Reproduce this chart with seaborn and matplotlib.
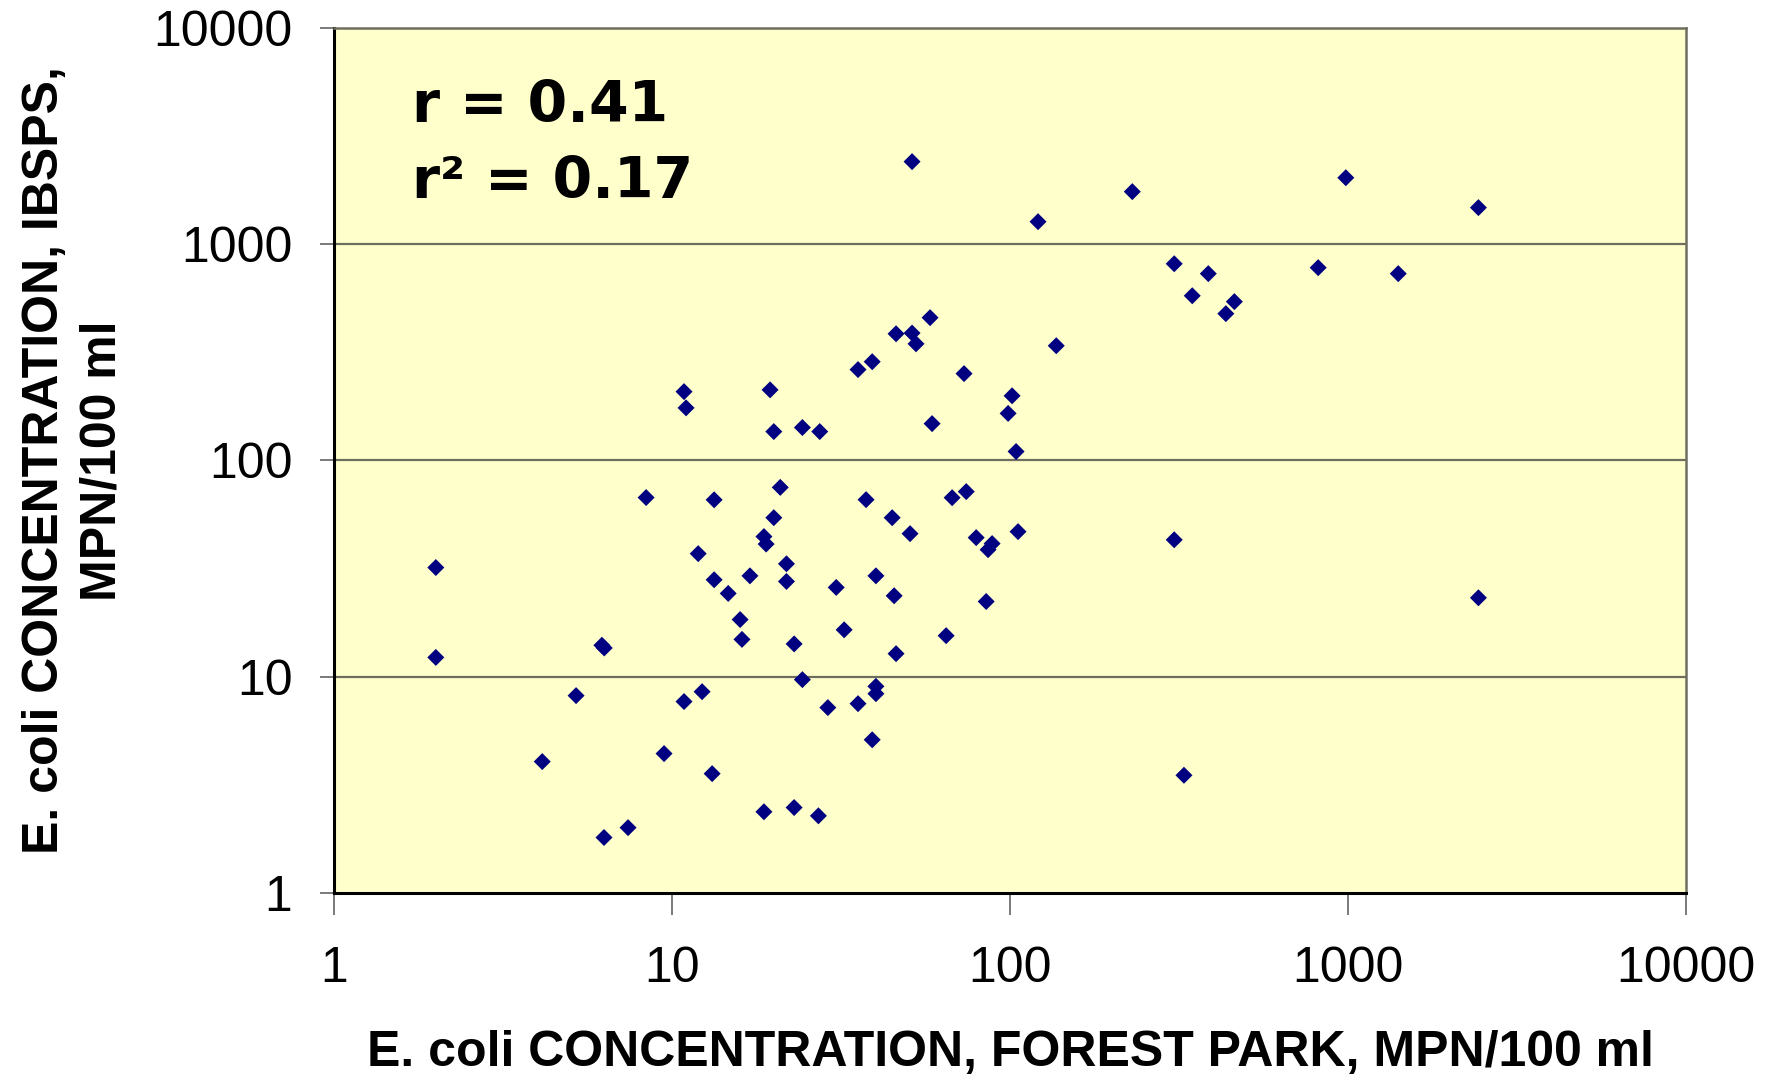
import numpy as np
import pandas as pd
import matplotlib
matplotlib.use("Agg")
import matplotlib.pyplot as plt
from matplotlib.ticker import FixedLocator, FixedFormatter, NullLocator
import seaborn as sns

# Paired E. coli counts (MPN/100 ml): Forest Park vs. IBSPS
forest_park = [
    2.0, 2.0, 4.13, 5.2, 6.2, 6.3, 6.29, 7.41, 8.38, 9.47,
    10.85, 11.0, 10.85, 12.27, 11.95, 13.14, 13.32, 13.32, 14.66, 15.9,
    16.1, 17.0, 18.7, 18.98, 18.7, 19.5, 20.0, 20.0, 20.9, 21.8,
    21.8, 22.97, 22.97, 24.3, 24.3, 27.1, 27.35, 28.9, 30.6, 32.3,
    35.5, 35.5, 37.5, 39.1, 39.1, 40.1, 40.1, 40.1, 44.8, 45.4,
    46.0, 46.0, 50.6, 51.3, 51.3, 52.7, 58.0, 58.8, 64.7, 67.4,
    73.1, 74.2, 79.4, 85.0, 86.1, 88.5, 98.7, 101.4, 104.2, 105.6,
    121.0, 137.0, 230.0, 306.0, 306.0, 327.0, 346.0, 386.0, 435.0, 461.0,
    816.0, 985.0, 1408.0, 2431.0, 2431.0,
]
ibsps = [
    32.0, 12.3, 4.06, 8.19, 14.0, 13.6, 1.81, 2.01, 67.4, 4.42,
    208.0, 175.0, 7.69, 8.54, 37.1, 3.57, 65.8, 28.1, 24.3, 18.4,
    14.9, 29.3, 44.5, 41.1, 2.38, 212.0, 136.0, 54.4, 75.1, 33.3,
    27.6, 14.2, 2.49, 142.0, 9.71, 2.28, 136.0, 7.21, 25.9, 16.5,
    263.0, 7.52, 65.9, 286.0, 5.12, 29.3, 9.04, 8.36, 54.4, 23.7,
    385.0, 12.8, 45.9, 2404.0, 388.0, 346.0, 457.0, 148.0, 15.5, 67.3,
    252.0, 71.8, 44.0, 22.3, 38.7, 41.3, 165.0, 199.0, 110.0, 46.9,
    1269.0, 339.0, 1747.0, 811.0, 43.0, 3.51, 577.0, 730.0, 477.0, 542.0,
    778.0, 2026.0, 730.0, 1474.0, 23.2,
]
decade_ticks = [1, 10, 100, 1000, 10000]
decade_labels = ["1", "10", "100", "1000", "10000"]
stats_lines = ["r = 0.41", "r\u00b2 = 0.17"]

df = pd.DataFrame({"forest_park": forest_park, "ibsps": ibsps})

sns.set_theme(style="white")
plt.rcParams["font.family"] = ["Liberation Sans", "DejaVu Sans"]
plt.rcParams["text.color"] = "black"
plt.rcParams["axes.labelcolor"] = "black"
plt.rcParams["xtick.color"] = "black"
plt.rcParams["ytick.color"] = "black"

fig = plt.figure(figsize=(17.77, 10.77), dpi=100)
fig.patch.set_facecolor("white")
ax = fig.add_axes([0.188, 0.1706, 0.7608, 0.8037])
ax.set_facecolor("#FFFFCC")

ax.set_xscale("log")
ax.set_yscale("log")
ax.set_xlim(1, 10000)
ax.set_ylim(1, 10000)

# horizontal decade gridlines only
for v in decade_ticks[1:-1]:
    ax.axhline(v, color="#6e6e60", lw=1.6, zorder=1)

sns.scatterplot(data=df, x="forest_park", y="ibsps", marker="D",
                color="#000080", s=75, edgecolor="none", linewidth=0,
                ax=ax, legend=False, zorder=3)

for axis in (ax.xaxis, ax.yaxis):
    axis.set_major_locator(FixedLocator(decade_ticks))
    axis.set_major_formatter(FixedFormatter(decade_labels))
    axis.set_minor_locator(NullLocator())

ax.tick_params(axis="y", which="major", direction="out", length=10, width=1.3,
               color="#707070", labelcolor="black", labelsize=36, pad=20, left=True)
ax.tick_params(axis="x", which="major", direction="out", length=16, width=1.3,
               color="#707070", labelcolor="black", labelsize=36, pad=22, bottom=True)

for side in ("left", "bottom"):
    ax.spines[side].set_color("black")
    ax.spines[side].set_linewidth(2.2)
for side in ("top", "right"):
    ax.spines[side].set_color("#6e6e60")
    ax.spines[side].set_linewidth(1.8)

ax.set_xlabel("E. coli CONCENTRATION, FOREST PARK, MPN/100 ml",
              fontsize=36, fontweight="bold", labelpad=27, color="black")
ax.set_ylabel("E. coli CONCENTRATION, IBSPS,\nMPN/100 ml",
              fontsize=36, fontweight="bold", labelpad=20, linespacing=1.32,
              color="black")

for line, ypos in zip(stats_lines, (0.891, 0.803)):
    ax.text(0.058, ypos, line, transform=ax.transAxes, family="DejaVu Sans",
            fontsize=41, fontweight="bold", ha="left", va="baseline",
            color="black")

fig.savefig("out.png", dpi=100, facecolor="white")
